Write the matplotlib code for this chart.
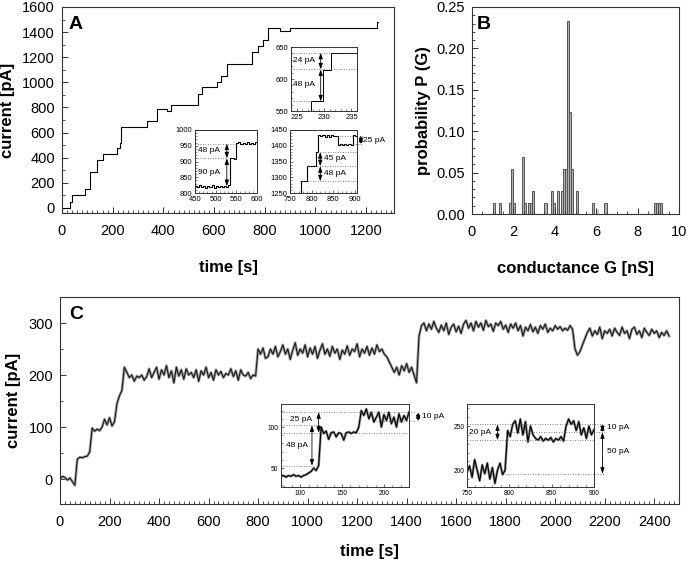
import numpy as np
import matplotlib
matplotlib.use('Agg')
import matplotlib.pyplot as plt
from matplotlib.ticker import MultipleLocator, FormatStrFormatter

plt.rcParams['font.family'] = ['Liberation Sans', 'DejaVu Sans']
plt.rcParams['axes.edgecolor'] = '#333333'
plt.rcParams['axes.linewidth'] = 0.8

# ---------------- data ----------------
# Panel A: staircase current trace
a_time = [0, 30, 38, 90, 110, 137, 163, 216, 227, 233, 334, 374, 415, 430, 538, 551, 612, 626, 650, 749, 775, 794, 814, 860, 899, 1243, 1248]
a_curr = [0, 50, 100, 150, 285, 380, 428, 475, 515, 642, 690, 785, 770, 822, 910, 960, 1005, 1050, 1150, 1240, 1292, 1335, 1432, 1405, 1432, 1478, 1478]

# Panel A insets
a1_time = [224, 227.6, 229.8, 231.3, 236]
a1_curr = [540, 565, 614, 641, 641]
a2_time = [450, 455, 460, 465, 470, 475, 480, 485, 490, 495, 500, 505, 510, 515, 520, 525, 530,
           535, 540, 545, 550, 555, 560, 565, 570, 575, 580, 585, 590, 595, 600]
a2_curr = [822, 818, 825, 819, 823, 816, 822, 818, 824, 817, 821, 819, 823, 818, 822, 820, 824,
           910, 912, 909, 958, 962, 955, 960, 957, 962, 956, 960, 957, 961, 958]
a3_time = [750, 755, 760, 765, 770, 775, 780, 785, 790, 795, 800, 805, 810, 815, 820, 825, 830,
           835, 840, 845, 850, 855, 860, 865, 870, 875, 880, 885, 890, 895, 900, 905]
a3_curr = [1240, 1240, 1240, 1240, 1240, 1287, 1287, 1287, 1335, 1335, 1335, 1335, 1380, 1435, 1430, 1434, 1428,
           1433, 1429, 1434, 1430, 1432, 1403, 1405, 1402, 1404, 1403, 1405, 1402, 1433, 1430, 1432]

# Panel B: conductance histogram
b_cond = [1.05, 1.35, 1.85, 1.95, 2.05, 2.45, 2.55, 2.75, 2.85, 2.95, 3.55, 3.85, 3.95, 4.15,
          4.35, 4.45, 4.55, 4.65, 4.75, 4.85, 5.05, 5.85, 6.45, 8.85, 8.95, 9.05, 9.15]
b_prob = [0.0137, 0.0137, 0.0137, 0.0548, 0.0137, 0.0685, 0.0137, 0.0137, 0.0137, 0.0274, 0.0137, 0.0274, 0.0137, 0.0274,
          0.0274, 0.0548, 0.0548, 0.2329, 0.1233, 0.0548, 0.0274, 0.0137, 0.0137, 0.0137, 0.0137, 0.0137, 0.0137]
b_light_cond = [6.05]
b_light_prob = [0.006]

# Panel C: long recording, sampled every 10 s from 0 s
c_t0, c_dt = 0, 10
c_curr = [0, 5, 3, -2, 2, -5, -12,
          38, 42, 41, 43, 44, 52,
          98, 92, 96, 93, 100,
          115, 104, 118, 102, 110,
          145, 160, 170,
          215, 205, 195, 200, 188, 198, 195, 200, 190, 197, 212, 195, 205, 215, 192, 210, 200, 218,
          195, 208, 185, 215, 198, 210, 192, 212, 200, 205, 195, 210, 188, 208, 200, 215, 195, 205,
          190, 210, 200, 207, 195, 203, 200, 212, 197, 208, 190, 210, 200, 198, 205, 193, 200, 198,
          250, 240, 252, 232, 235, 250, 240, 255, 235, 245, 258, 240, 250, 230, 248, 262, 238, 250,
          242, 258, 235, 252, 240, 255, 232, 248, 260, 240, 250, 236, 255, 242, 250, 230, 248, 240,
          256, 238, 250, 245, 260, 235, 250, 242, 255, 238, 252, 240, 258, 245, 250, 240, 235, 225, 215,
          205, 215, 200, 218, 208, 222, 205, 215, 200, 185,
          275, 295, 300, 285, 298, 288, 303, 290, 282, 296, 285, 300, 278, 292, 298, 283, 294, 280,
          298, 305, 290, 300, 285, 303, 292, 300, 286, 305, 293, 298, 284, 300, 295, 303, 288, 296,
          282, 298, 290, 300, 285, 295, 275, 292, 285, 297, 283, 292, 280, 295, 288, 298, 282, 290,
          285, 295, 288, 293, 285, 290, 286, 295, 288,
          250, 238, 245, 258, 270,
          282, 290, 275, 285, 278, 292, 270, 285, 280, 288, 275, 290, 282, 276, 292, 280, 285, 270,
          288, 292, 278, 285, 272, 290, 282, 276, 288, 280, 285, 272, 282, 276, 285, 275]

# Panel C insets, sampled every 3 s
c1_t0, c1_dt = 77, 3
c1_curr = [40, 41, 39, 41, 40, 42, 40, 41, 39, 41, 42, 44, 46, 50, 47, 53,
           100, 92, 95, 85, 93, 94, 88, 93, 92, 84, 93, 94, 92, 94, 93, 100,
           120, 114, 122, 110, 118, 106, 112, 118, 100, 115, 108, 118, 104, 112, 100, 116, 106, 114, 108, 118]
c2_t0, c2_dt = 750, 3
c2_curr = [198, 205, 192, 212, 200, 188, 206, 196, 208, 190, 203, 185, 200, 208, 195, 200,
           245, 238, 252, 256, 242, 258, 240, 255, 232, 250, 240,
           236, 234, 238, 233, 236, 234, 237, 232, 236, 234, 238, 233,
           250, 258, 252, 256, 245, 255, 240, 248, 236, 250, 240, 246]

# ---------------- figure ----------------
W, H = 688, 562
fig = plt.figure(figsize=(W / 100, H / 100), dpi=100)


def px_axes(l, t, r, b):
    return fig.add_axes([l / W, 1 - b / H, (r - l) / W, (b - t) / H])


def style_main(ax):
    ax.tick_params(which='both', direction='in', top=False, right=False, colors='#333333',
                   labelcolor='black', labelsize=10.5)
    ax.tick_params(which='major', length=4, width=0.7)
    ax.tick_params(which='minor', length=2.2, width=0.6)
    ax.tick_params(axis='x', pad=8)
    ax.tick_params(axis='y', pad=5)


def style_inset(ax, ls=5.5):
    ax.tick_params(which='both', direction='in', top=False, right=False, colors='#333333',
                   labelcolor='black', labelsize=ls, pad=2)
    ax.tick_params(which='major', length=2.5, width=0.5)
    ax.tick_params(which='minor', length=1.3, width=0.4)
    for s in ax.spines.values():
        s.set_linewidth(0.7)


def darrow(ax, x, y0, y1):
    ax.annotate('', xy=(x, y0), xytext=(x, y1),
                arrowprops=dict(arrowstyle='<|-|>,head_length=0.35,head_width=0.12', lw=0.6,
                                color='black', shrinkA=0, shrinkB=0),
                annotation_clip=False)


def dotted(ax, x0, x1, y, clip=True):
    ax.plot([x0, x1], [y, y], ls=(0, (1, 2)), lw=0.6, color='#555555', clip_on=clip)


# ---- Panel A ----
axA = px_axes(62, 7, 394, 213)
axA.plot(a_time, a_curr, drawstyle='steps-post', color='black', lw=0.8)
axA.set_xlim(0, 1310)
axA.set_ylim(-40, 1600)
axA.xaxis.set_major_locator(MultipleLocator(200))
axA.xaxis.set_minor_locator(MultipleLocator(20))
axA.yaxis.set_major_locator(MultipleLocator(200))
axA.yaxis.set_minor_locator(MultipleLocator(100))
style_main(axA)
axA.set_xlabel('time [s]', fontsize=12, fontweight='bold', labelpad=16)
axA.set_ylabel('current [pA]', fontsize=12, fontweight='bold', labelpad=5)
axA.text(0.02, 0.955, 'A', transform=axA.transAxes, fontsize=14, fontweight='bold', va='top')

# inset A1
ia1 = px_axes(291, 47, 357, 111)
ia1.plot(a1_time, a1_curr, drawstyle='steps-post', color='black', lw=0.7)
ia1.set_xlim(224, 236)
ia1.set_ylim(550, 650)
ia1.xaxis.set_major_locator(MultipleLocator(5))
ia1.xaxis.set_minor_locator(MultipleLocator(1))
ia1.yaxis.set_major_locator(MultipleLocator(50))
ia1.yaxis.set_minor_locator(MultipleLocator(10))
style_inset(ia1)
dotted(ia1, 224, 236, 641)
dotted(ia1, 224, 236, 615)
dotted(ia1, 224, 228, 565)
darrow(ia1, 229.4, 641, 615)
darrow(ia1, 229.4, 615, 565)
ia1.text(224.4, 629, '24 pA', fontsize=6, va='center')
ia1.text(224.4, 592, '48 pA', fontsize=6, va='center')

# inset A2
ia2 = px_axes(195, 130, 257, 193)
ia2.plot(a2_time, a2_curr, drawstyle='steps-post', color='black', lw=0.8)
ia2.set_xlim(450, 600)
ia2.set_ylim(800, 1000)
ia2.xaxis.set_major_locator(MultipleLocator(50))
ia2.xaxis.set_minor_locator(MultipleLocator(10))
ia2.yaxis.set_major_locator(MultipleLocator(50))
ia2.yaxis.set_minor_locator(MultipleLocator(10))
style_inset(ia2)
dotted(ia2, 450, 550, 957)
dotted(ia2, 450, 530, 910)
darrow(ia2, 527, 957, 910)
darrow(ia2, 527, 910, 822)
ia2.text(458, 934, '48 pA', fontsize=6, va='center')
ia2.text(458, 866, '90 pA', fontsize=6, va='center')

# inset A3
ia3 = px_axes(290, 130, 357, 193)
ia3.plot(a3_time, a3_curr, drawstyle='steps-post', color='black', lw=0.8)
ia3.set_xlim(750, 905)
ia3.set_ylim(1250, 1450)
ia3.xaxis.set_major_locator(MultipleLocator(50))
ia3.xaxis.set_minor_locator(MultipleLocator(10))
ia3.yaxis.set_major_locator(MultipleLocator(50))
ia3.yaxis.set_minor_locator(MultipleLocator(10))
style_inset(ia3)
dotted(ia3, 858, 918, 1432, clip=False)
dotted(ia3, 860, 918, 1405, clip=False)
dotted(ia3, 808, 905, 1380)
dotted(ia3, 790, 905, 1335)
dotted(ia3, 772, 905, 1287)
darrow(ia3, 820, 1380, 1335)
darrow(ia3, 820, 1335, 1287)
ia3.text(828, 1358, '45 pA', fontsize=6, va='center')
ia3.text(828, 1311, '48 pA', fontsize=6, va='center')
darrow(ia3, 914, 1432, 1405)
ia3.text(919, 1418, '25 pA', fontsize=6, va='center', clip_on=False)

# ---- Panel B ----
axB = px_axes(472, 7, 679, 214)
axB.bar(b_cond, b_prob, width=0.1, color='#b0b0b0', edgecolor='#555555', linewidth=0.7)
axB.bar(b_light_cond, b_light_prob, width=0.1, color='#cccccc', edgecolor='#bbbbbb', linewidth=0.5)
axB.set_xlim(0, 10)
axB.set_ylim(0, 0.25)
axB.xaxis.set_major_locator(MultipleLocator(2))
axB.xaxis.set_minor_locator(MultipleLocator(0.5))
axB.yaxis.set_major_locator(MultipleLocator(0.05))
axB.yaxis.set_minor_locator(MultipleLocator(0.01))
axB.yaxis.set_major_formatter(FormatStrFormatter('%.2f'))
style_main(axB)
axB.set_xlabel('conductance G [nS]', fontsize=12, fontweight='bold', labelpad=16)
axB.set_ylabel('probability P (G)', fontsize=12, fontweight='bold', labelpad=4)
axB.text(0.025, 0.955, 'B', transform=axB.transAxes, fontsize=14, fontweight='bold', va='top')

# ---- Panel C ----
axC = px_axes(60, 297, 679, 504)
c_time = [c_t0 + i * c_dt for i in range(len(c_curr))]
axC.plot(c_time, c_curr, color='#a0a0a0', lw=2.0)
axC.plot(c_time, c_curr, color='#1a1a1a', lw=0.8)
axC.set_xlim(0, 2500)
axC.set_ylim(-48, 350)
axC.xaxis.set_major_locator(MultipleLocator(200))
axC.xaxis.set_minor_locator(MultipleLocator(20))
axC.yaxis.set_major_locator(MultipleLocator(100))
axC.yaxis.set_minor_locator(MultipleLocator(50))
style_main(axC)
axC.set_xlabel('time [s]', fontsize=12, fontweight='bold', labelpad=11)
axC.set_ylabel('current [pA]', fontsize=12, fontweight='bold', labelpad=5)
axC.text(0.015, 0.955, 'C', transform=axC.transAxes, fontsize=14, fontweight='bold', va='top')

# inset C1
ic1 = px_axes(281, 404, 409, 487)
c1_time = [c1_t0 + i * c1_dt for i in range(len(c1_curr))]
ic1.plot(c1_time, c1_curr, color='#888888', lw=1.8)
ic1.plot(c1_time, c1_curr, color='black', lw=0.8)
ic1.set_xlim(77, 230)
ic1.set_ylim(27, 128)
ic1.xaxis.set_major_locator(MultipleLocator(50))
ic1.xaxis.set_minor_locator(MultipleLocator(10))
ic1.yaxis.set_major_locator(MultipleLocator(50))
ic1.yaxis.set_minor_locator(MultipleLocator(10))
style_inset(ic1, ls=4.8)
dotted(ic1, 77, 238, 118, clip=False)
dotted(ic1, 190, 238, 107, clip=False)
dotted(ic1, 77, 125, 102)
dotted(ic1, 77, 230, 93)
dotted(ic1, 77, 116, 53)
darrow(ic1, 122, 118, 93)
darrow(ic1, 114, 102, 53)
ic1.text(88, 109, '25 pA', fontsize=6, va='center')
ic1.text(83, 77, '48 pA', fontsize=6, va='center')
darrow(ic1, 241, 118, 107)
ic1.text(245, 113, '10 pA', fontsize=6, va='center', clip_on=False)

# inset C2
ic2 = px_axes(467, 404, 594, 487)
c2_time = [c2_t0 + i * c2_dt for i in range(len(c2_curr))]
ic2.plot(c2_time, c2_curr, color='#888888', lw=1.8)
ic2.plot(c2_time, c2_curr, color='black', lw=0.8)
ic2.set_xlim(750, 900)
ic2.set_ylim(181, 275)
ic2.xaxis.set_major_locator(MultipleLocator(50))
ic2.xaxis.set_minor_locator(MultipleLocator(10))
ic2.yaxis.set_major_locator(MultipleLocator(50))
ic2.yaxis.set_minor_locator(MultipleLocator(10))
style_inset(ic2, ls=4.8)
dotted(ic2, 750, 912, 252, clip=False)
dotted(ic2, 796, 912, 243, clip=False)
dotted(ic2, 750, 900, 234)
dotted(ic2, 795, 912, 196, clip=False)
darrow(ic2, 786, 252, 234)
ic2.text(752, 243, '20 pA', fontsize=6, va='center')
darrow(ic2, 910, 252, 243)
darrow(ic2, 910, 243, 196)
ic2.text(915, 248, '10 pA', fontsize=6, va='center', clip_on=False)
ic2.text(915, 221, '50 pA', fontsize=6, va='center', clip_on=False)

fig.savefig('out.png', dpi=100)
